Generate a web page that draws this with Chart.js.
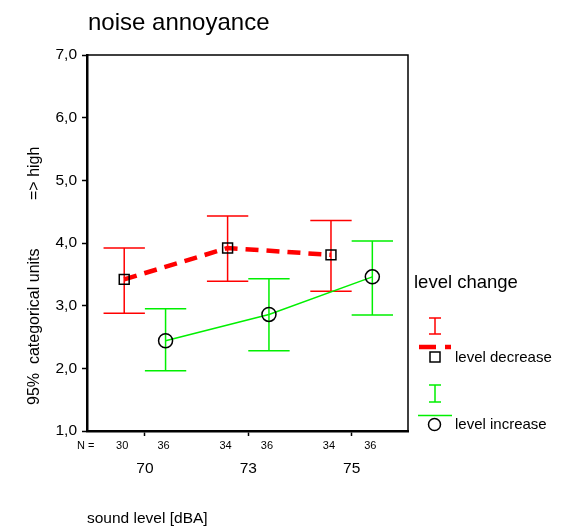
<!DOCTYPE html>
<html>
<head>
<meta charset="utf-8">
<script src="https://cdn.jsdelivr.net/npm/chart.js@4"></script>
<style>
  body { margin: 0; background: #fff; }
  canvas { display: block; }
</style>
</head>
<body>
<canvas id="chart" width="564" height="528"></canvas>
<script>
// sound level groups
const categories = ['70', '73', '75'];

// level decrease (red)
const nDecrease    = [30, 34, 34];
const meanDecrease = [3.42, 3.92, 3.81];
const lowDecrease  = [2.88, 3.39, 3.23];
const highDecrease = [3.92, 4.43, 4.36];

// level increase (green)
const nIncrease    = [36, 36, 36];
const meanIncrease = [2.44, 2.86, 3.46];
const lowIncrease  = [1.96, 2.28, 2.85];
const highIncrease = [2.95, 3.43, 4.03];

const yTickLabels = ['1,0', '2,0', '3,0', '4,0', '5,0', '6,0', '7,0'];

const FONT = '"Liberation Sans", Arial, sans-serif';
const RED = '#ff0000';
const GREEN = '#00f000';
const OFFSET = 0.2;   // dodge of the two groups
const CAP = 0.2;      // half width of the error bar caps

function meanPoints(means, off) {
    return means.map(function (m, i) { return { x: i + off, y: m }; });
}

function barPoints(lows, highs, off) {
    var pts = [];
    for (var i = 0; i < lows.length; i++) {
        var x = i + off;
        pts.push({ x: x, y: lows[i] }, { x: x, y: highs[i] }, { x: x, y: null });
        pts.push({ x: x - CAP, y: highs[i] }, { x: x + CAP, y: highs[i] }, { x: x, y: null });
        pts.push({ x: x - CAP, y: lows[i] }, { x: x + CAP, y: lows[i] }, { x: x, y: null });
    }
    return pts;
}

// extra texts, frame and legend
const decorPlugin = {
    id: 'decor',
    afterDraw: function (chart) {
        const ctx = chart.ctx;
        const area = chart.chartArea;
        const xs = chart.scales.x;
        ctx.save();

        // top / right frame
        ctx.strokeStyle = '#000';
        ctx.lineWidth = 1.5;
        ctx.beginPath();
        ctx.moveTo(area.left, area.top);
        ctx.lineTo(area.right, area.top);
        ctx.lineTo(area.right, area.bottom);
        ctx.stroke();

        ctx.fillStyle = '#000';
        ctx.textBaseline = 'alphabetic';

        // title
        ctx.font = '24px ' + FONT;
        ctx.textAlign = 'left';
        ctx.fillText('noise annoyance', 88, 30);

        // y axis title
        ctx.save();
        ctx.translate(39, 0);
        ctx.rotate(-Math.PI / 2);
        ctx.font = '16px ' + FONT;
        ctx.fillText('95%  categorical units', -405, 0);
        ctx.fillText('=> high', -200, 0);
        ctx.restore();

        // N row
        ctx.font = '11px ' + FONT;
        ctx.textAlign = 'left';
        ctx.fillText('N =', 77, 449);
        ctx.textAlign = 'center';
        for (var i = 0; i < categories.length; i++) {
            ctx.fillText(String(nDecrease[i]), xs.getPixelForValue(i - OFFSET) - 2, 449);
            ctx.fillText(String(nIncrease[i]), xs.getPixelForValue(i + OFFSET) - 2, 449);
        }

        // x axis title
        ctx.font = '15.5px ' + FONT;
        ctx.textAlign = 'left';
        ctx.fillText('sound level [dBA]', 87, 523);

        // legend
        ctx.font = '18.5px ' + FONT;
        ctx.fillText('level change', 414, 288);

        ctx.lineWidth = 1.5;
        // red I
        ctx.strokeStyle = RED;
        ctx.beginPath();
        ctx.moveTo(435, 318); ctx.lineTo(435, 334);
        ctx.moveTo(429, 318); ctx.lineTo(441, 318);
        ctx.moveTo(429, 334); ctx.lineTo(441, 334);
        ctx.stroke();
        // red dashed line
        ctx.lineWidth = 4.5;
        ctx.beginPath();
        ctx.moveTo(419, 347); ctx.lineTo(436, 347);
        ctx.moveTo(445, 347); ctx.lineTo(451, 347);
        ctx.stroke();
        // square
        ctx.strokeStyle = '#000';
        ctx.lineWidth = 1.5;
        ctx.strokeRect(430, 352, 10, 10);

        // green I
        ctx.strokeStyle = GREEN;
        ctx.beginPath();
        ctx.moveTo(435, 385); ctx.lineTo(435, 402);
        ctx.moveTo(429, 385); ctx.lineTo(441, 385);
        ctx.moveTo(429, 402); ctx.lineTo(441, 402);
        ctx.moveTo(418, 415.5); ctx.lineTo(452, 415.5);
        ctx.stroke();
        // circle
        ctx.strokeStyle = '#000';
        ctx.beginPath();
        ctx.arc(434.5, 424.5, 6, 0, Math.PI * 2);
        ctx.stroke();

        ctx.fillStyle = '#000';
        ctx.font = '15px ' + FONT;
        ctx.fillText('level decrease', 455, 362);
        ctx.fillText('level increase', 455, 429);

        ctx.restore();
    }
};

new Chart(document.getElementById('chart').getContext('2d'), {
    type: 'scatter',
    data: {
        datasets: [{
            label: 'level decrease',
            data: meanPoints(meanDecrease, -OFFSET),
            showLine: true,
            borderColor: RED,
            borderWidth: 4.5,
            borderDash: [13, 8],
            pointStyle: 'rect',
            pointRadius: 7,
            pointBorderColor: '#000',
            pointBorderWidth: 1.5,
            pointBackgroundColor: 'rgba(0,0,0,0)'
        }, {
            label: 'level increase',
            data: meanPoints(meanIncrease, OFFSET),
            showLine: true,
            borderColor: GREEN,
            borderWidth: 1.5,
            pointStyle: 'circle',
            pointRadius: 7,
            pointBorderColor: '#000',
            pointBorderWidth: 1.5,
            pointBackgroundColor: 'rgba(0,0,0,0)'
        }, {
            label: 'ci decrease',
            data: barPoints(lowDecrease, highDecrease, -OFFSET),
            showLine: true,
            spanGaps: false,
            borderColor: RED,
            borderWidth: 1.5,
            pointRadius: 0
        }, {
            label: 'ci increase',
            data: barPoints(lowIncrease, highIncrease, OFFSET),
            showLine: true,
            spanGaps: false,
            borderColor: GREEN,
            borderWidth: 1.5,
            pointRadius: 0
        }]
    },
    options: {
        responsive: false,
        animation: false,
        events: [],
        layout: { padding: { top: 55, right: 156, left: 0, bottom: 0 } },
        plugins: {
            legend: { display: false },
            title: { display: false },
            tooltip: { enabled: false }
        },
        scales: {
            x: {
                type: 'linear',
                min: -0.56,
                max: 2.545,
                afterBuildTicks: function (scale) {
                    scale.ticks = categories.map(function (c, i) { return { value: i }; });
                },
                afterFit: function (scale) { scale.height = 97; },
                ticks: {
                    color: '#000',
                    font: { family: FONT, size: 15.5 },
                    padding: 23,
                    maxRotation: 0,
                    callback: function (value, index) { return categories[index]; }
                },
                grid: { drawOnChartArea: false, tickLength: 5, color: '#000', tickWidth: 1.5 },
                border: { display: true, color: '#000', width: 2.5 }
            },
            y: {
                min: 1,
                max: 7,
                afterFit: function (scale) { scale.width = 87; },
                ticks: {
                    stepSize: 1,
                    color: '#000',
                    padding: 5,
                    font: { family: FONT, size: 15.5 },
                    callback: function (value) { return yTickLabels[Math.round(value) - 1]; }
                },
                grid: { drawOnChartArea: false, tickLength: 5, color: '#000', tickWidth: 1.5 },
                border: { display: true, color: '#000', width: 2.5 }
            }
        }
    },
    plugins: [decorPlugin]
});
</script>
</body>
</html>
